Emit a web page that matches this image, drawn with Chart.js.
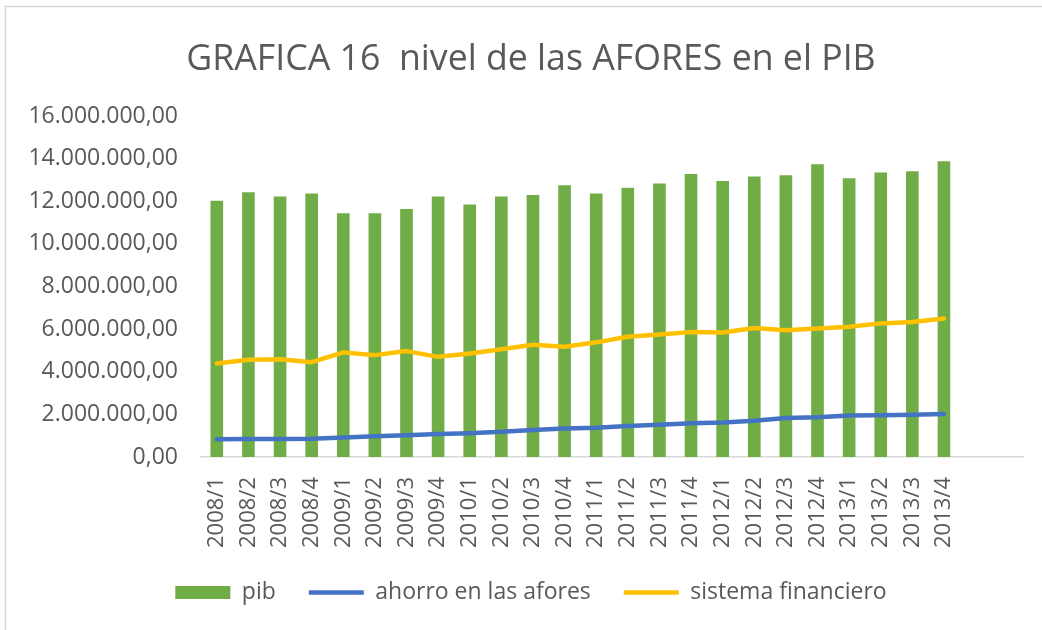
<!DOCTYPE html>
<html>
<head>
<meta charset="utf-8">
<script src="https://cdn.jsdelivr.net/npm/chart.js@4/dist/chart.umd.min.js"></script>
<style>
	html, body { margin: 0; padding: 0; background: #fff; overflow: hidden; }
	/* the original chart frame runs past the right edge of the picture */
	#wrap { width: 1060px; height: 630px; position: relative; }
</style>
</head>
<body>
<div id="wrap"><canvas id="chart"></canvas></div>
<script>
// quarters; the two trailing blanks are empty categories on the axis
const quarters = ['2008/1','2008/2','2008/3','2008/4','2009/1','2009/2','2009/3','2009/4',
	'2010/1','2010/2','2010/3','2010/4','2011/1','2011/2','2011/3','2011/4',
	'2012/1','2012/2','2012/3','2012/4','2013/1','2013/2','2013/3','2013/4','',''];

const pib = [12030000, 12420000, 12220000, 12360000, 11440000, 11440000, 11640000, 12220000,
	11850000, 12220000, 12300000, 12750000, 12360000, 12630000, 12830000, 13280000,
	12950000, 13160000, 13220000, 13740000, 13080000, 13350000, 13410000, 13880000];

const ahorroAfores = [830000, 840000, 850000, 860000, 910000, 970000, 1020000, 1080000,
	1120000, 1190000, 1270000, 1340000, 1370000, 1450000, 1510000, 1580000,
	1620000, 1700000, 1830000, 1860000, 1950000, 1960000, 1980000, 2020000];

const sistemaFinanciero = [4390000, 4560000, 4590000, 4450000, 4910000, 4780000, 4970000, 4700000,
	4860000, 5060000, 5270000, 5170000, 5380000, 5640000, 5750000, 5860000,
	5840000, 6050000, 5950000, 6030000, 6110000, 6270000, 6340000, 6500000];

const yTicks = [0, 2000000, 4000000, 6000000, 8000000, 10000000, 12000000, 14000000, 16000000];

const FONT = '"Open Sans", "DejaVu Sans", sans-serif';
const GREY = '#595959';

function fmt(v) {
	const s = Math.round(v).toString().replace(/\B(?=(\d{3})+(?!\d))/g, '.');
	return s + ',00';
}

// light frame around the chart, like the Excel chart border
const framePlugin = {
	id: 'frame',
	beforeDraw(chart) {
		const ctx = chart.ctx;
		ctx.save();
		ctx.fillStyle = '#fff';
		ctx.fillRect(0, 0, chart.width, chart.height);
		ctx.strokeStyle = '#d9d9d9';
		ctx.lineWidth = 1.5;
		ctx.strokeRect(5.5, 6.5, chart.width + 10, chart.height + 10);
		ctx.restore();
	}
};

const ctx = document.getElementById('chart').getContext('2d');
new Chart(ctx, {
	type: 'bar',
	data: {
		labels: quarters,
		datasets: [
			{
				label: 'pib',
				data: pib,
				backgroundColor: '#70ad47',
				borderWidth: 0,
				barPercentage: 0.4,
				categoryPercentage: 1,
				pointStyle: 'rect',
				order: 2
			},
			{
				type: 'line',
				label: 'ahorro en las afores',
				data: ahorroAfores,
				borderColor: '#4472c4',
				backgroundColor: '#4472c4',
				borderWidth: 4.5,
				borderCapStyle: 'round',
				borderJoinStyle: 'round',
				pointRadius: 0,
				pointStyle: 'line',
				tension: 0,
				order: 1
			},
			{
				type: 'line',
				label: 'sistema financiero',
				data: sistemaFinanciero,
				borderColor: '#ffc000',
				backgroundColor: '#ffc000',
				borderWidth: 4.5,
				borderCapStyle: 'round',
				borderJoinStyle: 'round',
				pointRadius: 0,
				pointStyle: 'line',
				tension: 0,
				order: 1
			}
		]
	},
	options: {
		responsive: true,
		maintainAspectRatio: false,
		animation: false,
		layout: { padding: { top: 6, left: 6, right: 4, bottom: 16 } },
		plugins: {
			title: {
				display: true,
				text: 'GRAFICA 16  nivel de las AFORES en el PIB',
				color: GREY,
				font: { family: FONT, size: 35.7, weight: 'normal' },
				padding: { top: 32.6, bottom: 34.6 }
			},
			legend: {
				position: 'bottom',
				labels: {
					color: GREY,
					font: { family: FONT, size: 23 },
					usePointStyle: true,
					boxHeight: 13,
					pointStyleWidth: 55,
					padding: 33,
					sort: (a, b) => a.datasetIndex - b.datasetIndex
				}
			},
			tooltip: { enabled: false }
		},
		scales: {
			x: {
				grid: { display: false },
				border: { display: true, color: '#d9d9d9', width: 1.5 },
				afterFit(scale) { scale.height = 91; },
				ticks: {
					color: GREY,
					font: { family: FONT, size: 22 },
					minRotation: 90,
					maxRotation: 90,
					autoSkip: false,
					padding: 12
				}
			},
			y: {
				min: 0,
				max: 16000000,
				grid: { display: false },
				border: { display: false },
				afterFit(scale) { scale.width = 195; },
				afterBuildTicks(scale) { scale.ticks = yTicks.map(v => ({ value: v })); },
				ticks: {
					color: GREY,
					font: { family: FONT, size: 23 },
					padding: 15,
					callback: (v) => fmt(v)
				}
			},
			// empty right-hand space inside the frame
			yRight: {
				position: 'right',
				display: true,
				grid: { display: false },
				border: { display: false },
				ticks: { display: false },
				afterFit(scale) { scale.width = 33; }
			}
		}
	},
	plugins: [framePlugin]
});
</script>
</body>
</html>
